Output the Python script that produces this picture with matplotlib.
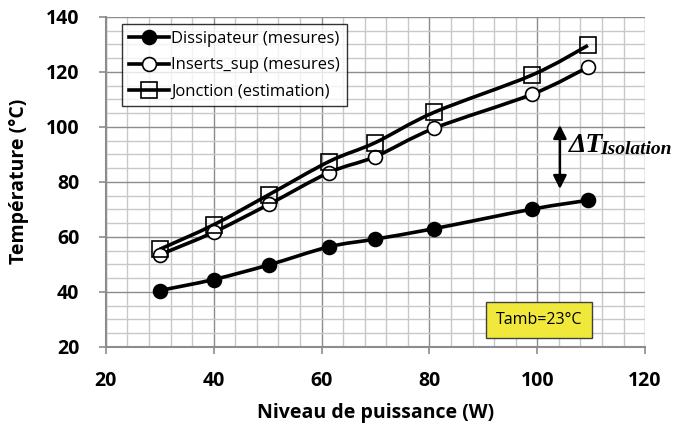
import numpy as np
import matplotlib.pyplot as plt
from matplotlib.path import Path
from matplotlib.patches import PathPatch
from matplotlib.ticker import MultipleLocator

# ─── DATA ───────────────────────────────────────────────────────────────
puissance = [30, 40, 50.2, 61.4, 70, 80.9, 99.1, 109.4]
dissipateur = [40.5, 44.5, 49.8, 56.4, 59.2, 63.0, 70.1, 73.3]
inserts_sup = [53.5, 61.7, 71.8, 83.4, 89.2, 99.5, 111.9, 121.7]
jonction = [55.5, 64.4, 75.3, 87.4, 94.3, 105.3, 118.9, 129.6]

labels = ["Dissipateur (mesures)", "Inserts_sup (mesures)", "Jonction (estimation)"]

FONT = "Open Sans"
GRID_MINOR = "#c8c8c8"
GRID_MAJOR = "#8c8c8c"


def smooth_path(x, y, t=1 / 6):
    # Excel-style smoothed line: cubic Bezier segments through every point
    x, y = np.asarray(x, float), np.asarray(y, float)
    n = len(x)
    verts = [(x[0], y[0])]
    codes = [Path.MOVETO]
    for i in range(n - 1):
        x0, y0 = (x[i - 1], y[i - 1]) if i > 0 else (x[i], y[i])
        x3, y3 = (x[i + 2], y[i + 2]) if i + 2 < n else (x[i + 1], y[i + 1])
        c1 = (x[i] + (x[i + 1] - x0) * t, y[i] + (y[i + 1] - y0) * t)
        c2 = (x[i + 1] - (x3 - x[i]) * t, y[i + 1] - (y3 - y[i]) * t)
        verts += [c1, c2, (x[i + 1], y[i + 1])]
        codes += [Path.CURVE4] * 3
    return Path(verts, codes)


fig = plt.figure(figsize=(6.87, 4.32), dpi=100)
ax = fig.add_axes([0.154, 0.197, 0.785, 0.764])

ax.set_xlim(20, 120)
ax.set_ylim(20, 140)
ax.xaxis.set_major_locator(MultipleLocator(20))
ax.yaxis.set_major_locator(MultipleLocator(20))
ax.xaxis.set_minor_locator(MultipleLocator(4))
ax.yaxis.set_minor_locator(MultipleLocator(5))
ax.grid(which="minor", color=GRID_MINOR, lw=1.0)
ax.grid(which="major", color=GRID_MAJOR, lw=1.0)
ax.set_axisbelow(True)

for s in ["top", "right"]:
    ax.spines[s].set_visible(False)
for s in ["left", "bottom"]:
    ax.spines[s].set_color(GRID_MAJOR)
    ax.spines[s].set_linewidth(1.5)
ax.tick_params(which="major", direction="out", length=5, width=1.2, color=GRID_MAJOR,
               labelsize=14)
ax.tick_params(which="minor", length=0)
ax.tick_params(axis="y", pad=14)
ax.tick_params(axis="x", pad=12)
for lab in ax.get_xticklabels() + ax.get_yticklabels():
    lab.set_fontfamily(FONT)
    lab.set_fontweight("bold")

series = [
    (dissipateur, dict(marker="o", mfc="black", ms=10)),
    (inserts_sup, dict(marker="o", mfc="white", ms=10)),
    (jonction, dict(marker="s", mfc="none", ms=11)),
]
for (vals, style), lab in zip(series, labels):
    ax.add_patch(PathPatch(smooth_path(puissance, vals), fc="none", ec="black", lw=2.6,
                           zorder=3, clip_on=False))
    ax.plot(puissance, vals, ls="none", mec="black", mew=1.2, zorder=4, **style)
    ax.plot([], [], color="black", lw=2.6, label=lab, mec="black", mew=1.2, **style)

leg = ax.legend(loc="upper left", bbox_to_anchor=(0.03, 0.977), frameon=True,
                fancybox=False, edgecolor="black", prop={"family": FONT, "size": 12},
                handlelength=2.4, handletextpad=0.15, borderpad=0.4, labelspacing=0.62,
                borderaxespad=0)
leg.get_frame().set_linewidth(1.0)

# ΔT annotation
ax.annotate("", xy=(104.2, 101.7), xytext=(104.2, 76.4),
            arrowprops=dict(arrowstyle="<|-|>", color="black", lw=1.8,
                            mutation_scale=20))
ax.text(105.8, 91.0, "ΔT", family="Liberation Serif", style="italic", weight="bold",
        fontsize=20, va="baseline", ha="left")
ax.text(111.7, 90.0, "Isolation", family="Liberation Serif", style="italic",
        weight="bold", fontsize=14, va="baseline", ha="left")

# Tamb box
ax.text(100.3, 29.8, "Tamb=23°C", family=FONT, fontsize=11.5, ha="center", va="center",
        bbox=dict(boxstyle="square,pad=0.6", fc="#f0e93c", ec="#404040", lw=1.0),
        zorder=5)

ax.set_xlabel("Niveau de puissance (W)", family=FONT, weight="bold", fontsize=14,
              labelpad=9)
ax.set_ylabel("Température (°C)", family=FONT, weight="bold", fontsize=14, labelpad=12)

fig.savefig("out.png", dpi=100)
